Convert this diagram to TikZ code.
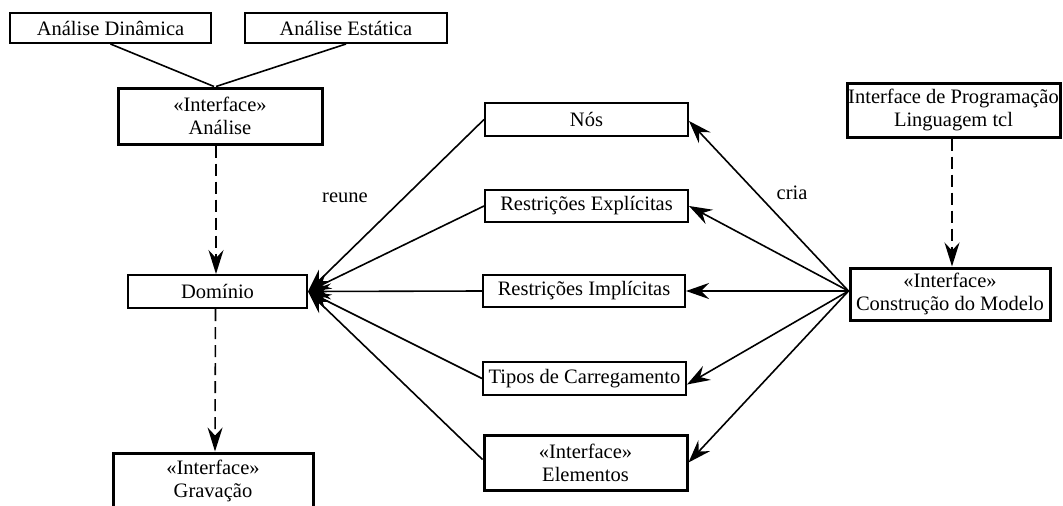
\documentclass[tikz,border=0pt]{standalone}
\usepackage{fontspec}
\setmainfont{Liberation Serif}
\usetikzlibrary{arrows.meta}
\begin{document}
\begin{tikzpicture}[x=1pt,y=-1pt,
  every node/.style={font=\fontsize{20.5}{23}\selectfont},
  plainbox/.style={draw,line width=2pt,inner sep=0pt,align=center},
  ifacebox/.style={draw,line width=3pt,inner sep=0pt,align=center},
  conn/.style={line width=1.6pt},
  headed/.style={conn,-{Stealth[length=23pt,width=16pt,inset=8pt]}},
  dashedarrow/.style={line width=1.6pt,dash pattern=on 12pt off 6pt,-{Stealth[length=24pt,width=15pt,inset=8pt]}},
  lbl/.style={inner sep=0pt}]
\path[use as bounding box] (0,0) rectangle (1063,506);
\clip (0,0) rectangle (1063,506);

\node[plainbox,minimum width=201pt,minimum height=30pt] (dyn) at (110.5,28) {Análise Dinâmica};
\node[plainbox,minimum width=202pt,minimum height=30pt] (est) at (346,28) {Análise Estática};
\node[ifacebox,minimum width=204pt,minimum height=56pt] (ana) at (220,116) {«Interface»\\Análise};
\node[plainbox,minimum width=179pt,minimum height=33pt] (dom) at (217.5,291.5) {Domínio};
\node[ifacebox,minimum width=200pt,minimum height=56pt] (grav) at (213,481) {«Interface»\\Gravação};

\node[plainbox,minimum width=203pt,minimum height=33pt] (nos) at (586.5,119.5) {Nós};
\node[plainbox,minimum width=203pt,minimum height=32pt] (expl) at (586.5,206) {Restrições Explícitas};
\node[plainbox,minimum width=202pt,minimum height=32pt] (impl) at (584,291) {Restrições Implícitas};
\node[plainbox,minimum width=203pt,minimum height=33pt] (tipos) at (584.5,378.5) {Tipos de Carregamento};
\node[ifacebox,minimum width=203pt,minimum height=55pt] (elem) at (585.5,462.5) {«Interface»\\Elementos};

\node[ifacebox,minimum width=213pt,minimum height=54pt] (prog) at (953.5,110) {Interface de Programação\\Linguagem tcl};
\node[ifacebox,minimum width=200pt,minimum height=52pt] (cm) at (950,294) {«Interface»\\Construção do Modelo};

\node[lbl] (reune) at (345,198) {reune};
\node[lbl] (cria) at (792,193) {cria};

% análise links
\draw[conn] (dyn.south) -- ([xshift=-6pt]ana.north);
\draw[conn] (est.south) -- ([xshift=-4pt]ana.north);

% dashed dependencies
\draw[dashedarrow] ([xshift=-4pt]ana.south) -- ([xshift=-1.5pt]dom.north);
\draw[dashedarrow] ([xshift=-2pt]dom.south) -- ([xshift=2pt]grav.north);
\draw[dashedarrow] ([xshift=-1.5pt]prog.south) -- ([xshift=2pt]cm.north);

% reune
\draw[headed] (nos.west) -- (dom.east);
\draw[headed] (expl.west) -- (dom.east);
\draw[headed] (impl.west) -- (dom.east);
\draw[headed] (tipos.west) -- (dom.east);
\draw[headed] ([yshift=3pt]elem.west) -- (dom.east);

% cria
\coordinate (hub) at ([yshift=3pt]cm.west);
\draw[headed] (hub) -- ([yshift=-1.5pt]nos.east);
\draw[headed] (hub) -- (expl.east);
\draw[headed] (hub) -- (hub -| impl.east);
\draw[headed] (hub) -- ([yshift=-6pt]tipos.east);
\draw[headed] (hub) -- (elem.east);
\end{tikzpicture}
\end{document}
